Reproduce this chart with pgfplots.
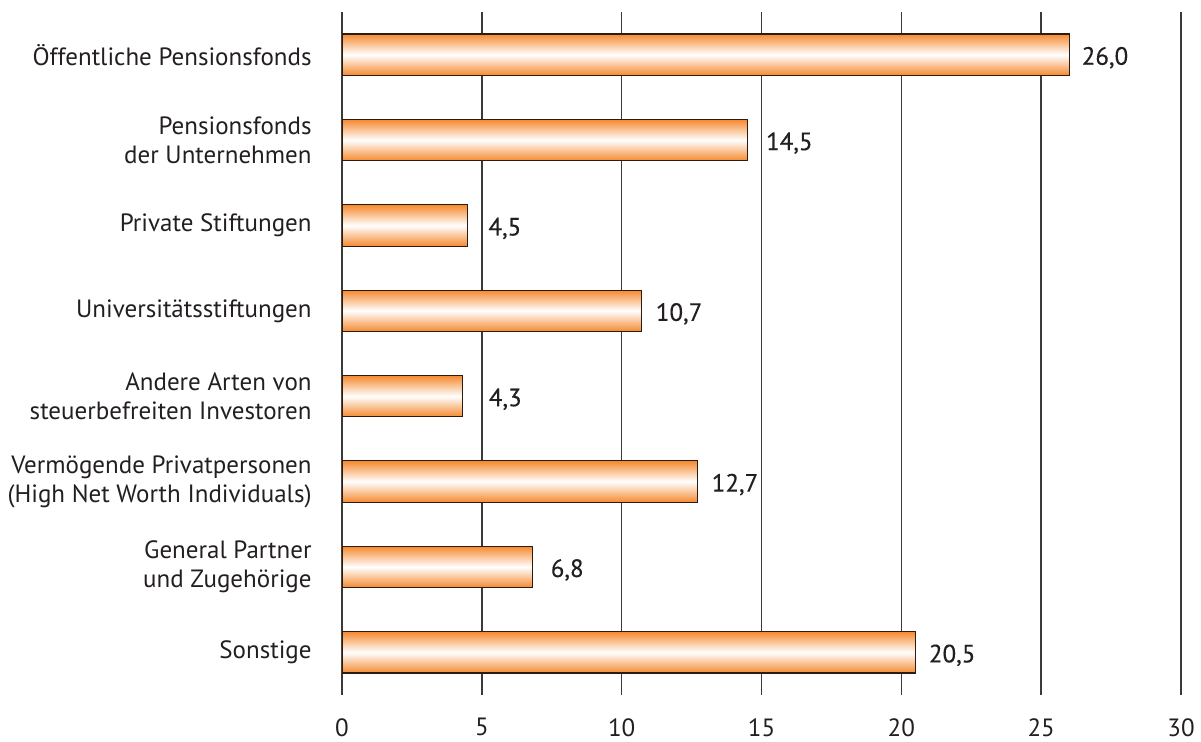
\documentclass[border=0pt]{standalone}
\usepackage{fontspec}
\setmainfont{PT Sans}
\newfontfamily\medfont[FakeBold=0.35]{PT Sans}
\usepackage{pgfplots}
\pgfplotsset{compat=1.18}
\definecolor{barorange}{HTML}{F5892F}
\definecolor{bardark}{HTML}{2B1B10}
\definecolor{gridgray}{HTML}{3A3A3A}
\definecolor{txt}{HTML}{231F20}
\pgfplotsset{
  mybar/.style={xbar, bar width=0.485, draw=bardark, line width=0.6pt,
    top color=barorange, bottom color=barorange, middle color=white,
    point meta=x,
    nodes near coords={\pgfmathprintnumber[fixed,fixed zerofill,precision=1,use comma]{\pgfplotspointmeta}},
    nodes near coords style={anchor=west, inner sep=0pt, xshift=#1, yshift=-1.5pt, text=txt, font=\medfont\fontsize{12.5}{14.5}\selectfont}},
}
\begin{document}
\begin{tikzpicture}[x=1pt,y=1pt]
\useasboundingbox (0,0) rectangle (600.5,370.5);
\begin{axis}[
  at={(171pt,23pt)}, anchor=south west,
  scale only axis, width=419.5pt, height=341.5pt,
  xmin=0, xmax=30, ymin=-0.5, ymax=7.5,
  xtick={0,5,10,15,20,25,30},
  ytick={0,1,2,3,4,5,6,7},
  yticklabels={Sonstige,{General Partner\\und Zugehörige},{Vermögende Privatpersonen\\(High Net Worth Individuals)},{Andere Arten von\\steuerbefreiten Investoren},Universitätsstiftungen,Private Stiftungen,{Pensionsfonds\\der Unternehmen},Öffentliche Pensionsfonds},
  major tick length=0pt,
  axis line style={draw=none},
  xmajorgrids, grid style={gridgray, line width=0.75pt},
  /pgf/number format/assume math mode=true,
  tick label style={font=\fontsize{12.5}{14.5}\selectfont, text=txt},
  yticklabel style={align=right, inner sep=0pt, xshift=-15pt},
  xticklabel style={inner sep=0pt, yshift=-11.5pt},
]
\addplot[mybar=6.5pt] coordinates {(20.5,0)};
\addplot[mybar=9pt] coordinates {(6.8,1)};
\addplot[mybar=7pt] coordinates {(12.7,2)};
\addplot[mybar=13pt] coordinates {(4.3,3)};
\addplot[mybar=7pt] coordinates {(10.7,4)};
\addplot[mybar=10pt] coordinates {(4.5,5)};
\addplot[mybar=9pt] coordinates {(14.5,6)};
\addplot[mybar=6pt] coordinates {(26.0,7)};
\end{axis}
\end{tikzpicture}
\end{document}
